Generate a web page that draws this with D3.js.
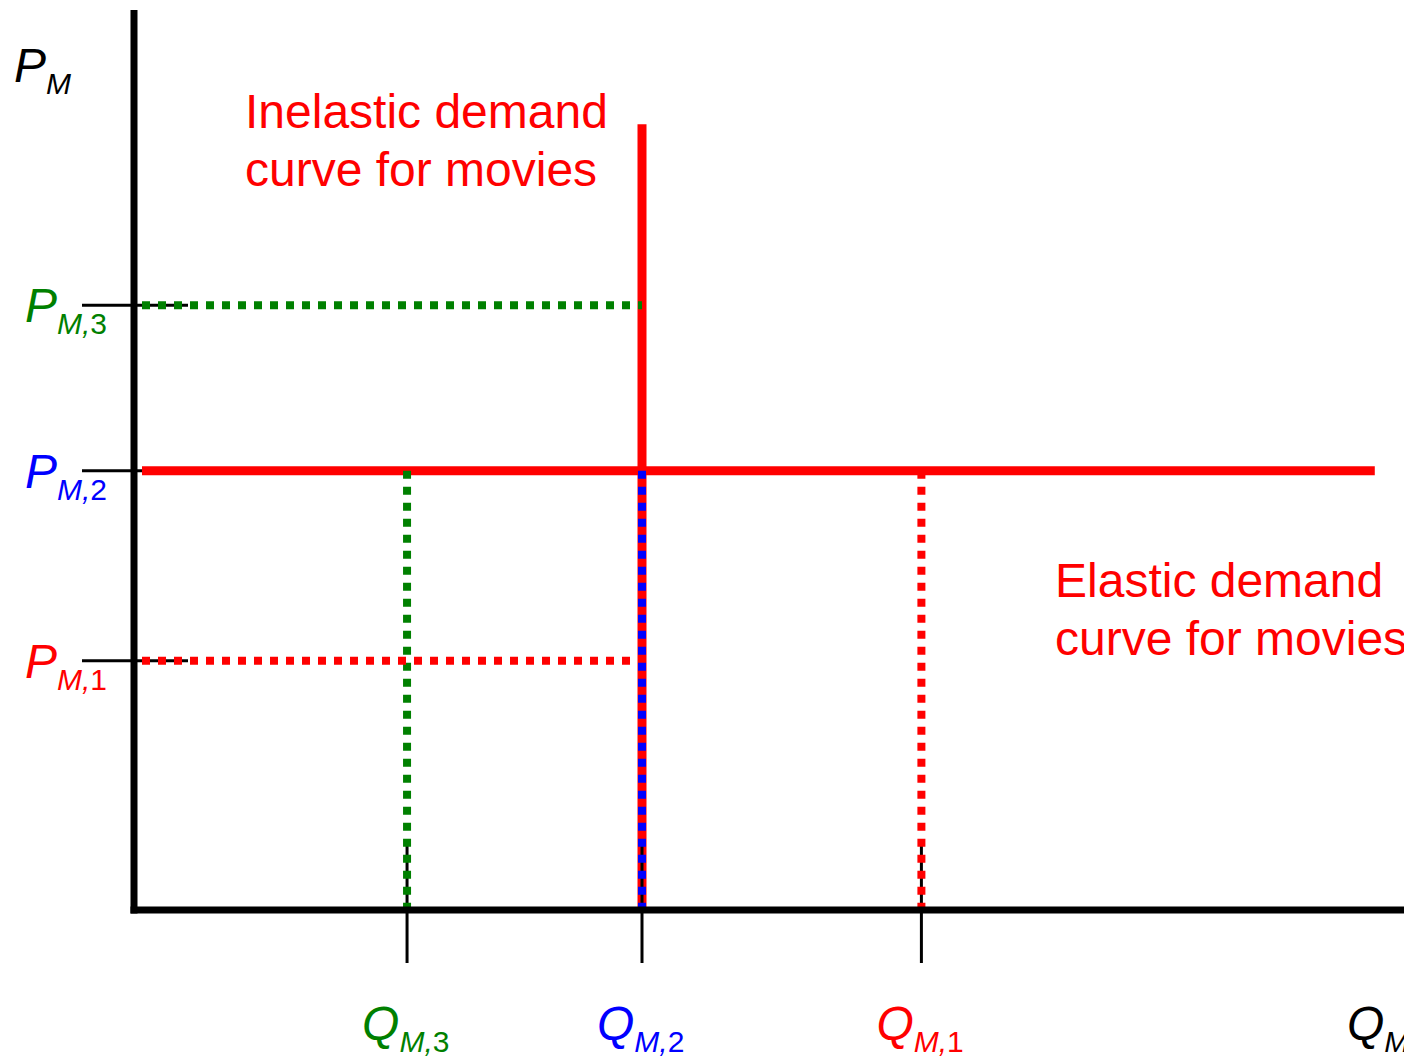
<!DOCTYPE html>
<html>
<head>
<meta charset="utf-8">
<script src="https://cdn.jsdelivr.net/npm/d3@7"></script>
<style>
  html, body { margin: 0; padding: 0; background: #fff; }
  svg { display: block; }
  text { font-family: "Liberation Sans", Arial, sans-serif; }
</style>
</head>
<body>
<script>
// ---- data ----
const priceSubs = ["M,3", "M,2", "M,1"];
const priceValues = [6.72, 4.88, 2.77];
const priceColors = ["#008000", "#0000ff", "#ff0000"];

const quantitySubs = ["M,3", "M,2", "M,1"];
const quantityValues = [2.15, 4.0, 6.2];
const quantityColors = ["#008000", "#0000ff", "#ff0000"];

const inelasticCurve = [[4.0, 8.73], [4.0, 0]];
const elasticCurve = [[0.063, 4.88], [9.77, 4.88]];

const inelasticLabel = ["Inelastic demand", "curve for movies"];
const elasticLabel = ["Elastic demand", "curve for movies"];
const axisLabels = { y: ["P", "M"], x: ["Q", "M"] };

// ---- setup ----
const W = 1404, H = 1059;
const svg = d3.select("body").append("svg").attr("width", W).attr("height", H);
const x = d3.scaleLinear().domain([0, 10]).range([134, 1404]);
const y = d3.scaleLinear().domain([0, 10]).range([910, 10]);
const line = d3.line().x(d => x(d[0])).y(d => y(d[1]));

const RED = "#ff0000";

// red demand curves (solid)
svg.append("path").attr("d", line(inelasticCurve))
  .attr("stroke", RED).attr("stroke-width", 9).attr("fill", "none");

// ticks (thin black)
priceValues.forEach(v => {
  svg.append("line").attr("x1", x(0) - 52).attr("x2", x(0) + 54)
    .attr("y1", y(v)).attr("y2", y(v))
    .attr("stroke", "#000").attr("stroke-width", 3);
});
quantityValues.forEach(v => {
  svg.append("line").attr("x1", x(v)).attr("x2", x(v))
    .attr("y1", y(0) - 67).attr("y2", y(0) + 53)
    .attr("stroke", "#000").attr("stroke-width", 3);
});
// elastic line over the P2 tick
svg.append("path").attr("d", line(elasticCurve))
  .attr("stroke", RED).attr("stroke-width", 9).attr("fill", "none");

// dotted guide lines
const dotted = (pts, color) => svg.append("path").attr("d", line(pts))
  .attr("stroke", color).attr("stroke-width", 8).attr("fill", "none")
  .attr("stroke-dasharray", "8,8");

const pE = priceValues[1];
const q2 = quantityValues[1];
dotted([[0.063, priceValues[0]], [q2, priceValues[0]]], priceColors[0]);
dotted([[quantityValues[0], pE], [quantityValues[0], 0]], quantityColors[0]);
dotted([[0.063, priceValues[2]], [q2, priceValues[2]]], priceColors[2]);
dotted([[quantityValues[2], pE], [quantityValues[2], 0]], quantityColors[2]);
dotted([[q2, pE], [q2, 0]], quantityColors[1]);

// axes
svg.append("line").attr("x1", x(0)).attr("x2", x(0)).attr("y1", y(10)).attr("y2", y(0) + 3.5)
  .attr("stroke", "#000").attr("stroke-width", 7);
svg.append("line").attr("x1", x(0) - 3.5).attr("x2", x(10)).attr("y1", y(0)).attr("y2", y(0))
  .attr("stroke", "#000").attr("stroke-width", 7);

// labels with subscripts (letters italic, digits upright)
function subLabel(px, py, main, sub, color) {
  const t = svg.append("text").attr("x", px).attr("y", py)
    .attr("fill", color).attr("font-size", 48);
  t.append("tspan").attr("font-style", "italic").text(main);
  const m = sub.match(/^([^0-9]*)([0-9]*)$/);
  t.append("tspan").attr("font-size", 30).attr("dy", 12)
    .attr("font-style", "italic").text(m[1]);
  if (m[2]) t.append("tspan").attr("font-size", 30).text(m[2]);
}
subLabel(14, 82, axisLabels.y[0], axisLabels.y[1], "#000");
subLabel(1347, 1040, axisLabels.x[0], axisLabels.x[1], "#000");

priceValues.forEach((v, i) => {
  subLabel(25, y(v) + 17, "P", priceSubs[i], priceColors[i]);
});
quantityValues.forEach((v, i) => {
  subLabel(x(v) - 45, 1040, "Q", quantitySubs[i], quantityColors[i]);
});

// curve descriptions
inelasticLabel.forEach((s, i) => {
  svg.append("text").attr("x", 245).attr("y", 128 + i * 58)
    .attr("fill", RED).attr("font-size", 48).text(s);
});
elasticLabel.forEach((s, i) => {
  svg.append("text").attr("x", 1055).attr("y", 597 + i * 58)
    .attr("fill", RED).attr("font-size", 48).text(s);
});
</script>
</body>
</html>
